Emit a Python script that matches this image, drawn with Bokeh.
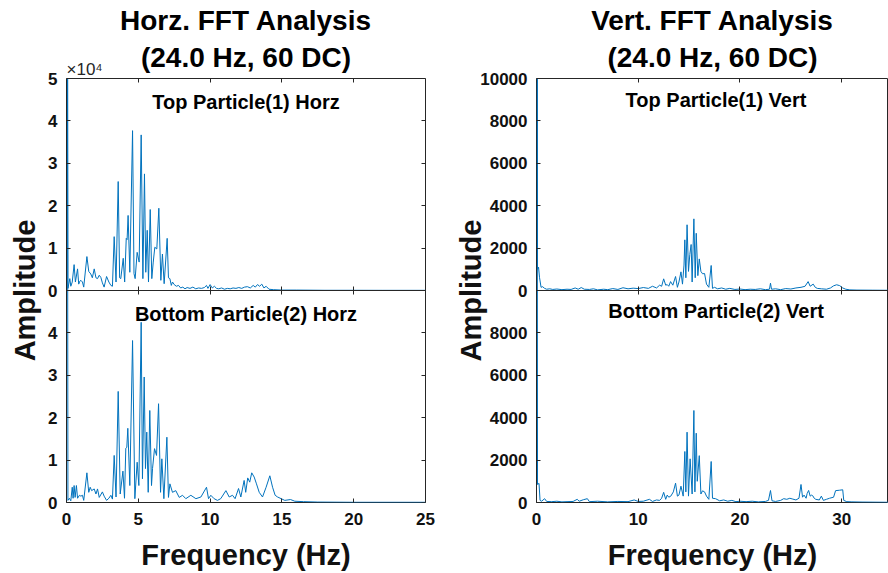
from bokeh.plotting import figure
from bokeh.models import Range1d, LinearAxis, FixedTicker, Label, Title, CustomJSTickFormatter
from bokeh.layouts import row
from bokeh.embed import file_html
from bokeh.resources import INLINE

# ---------------- data (frequency Hz, amplitude) ----------------
horz_top = [(0.0, 300000), (0.1, 500), (0.23, 2800), (0.3, 1000), (0.4, 2000), (0.53, 6100), (0.62, 2000),
            (0.77, 5100), (0.85, 1500), (0.93, 2200), (1.0, 2400), (1.11, 2000), (1.2, 800), (1.42, 8000),
            (1.55, 4500), (1.69, 3900), (1.8, 3000), (1.93, 5100), (2.05, 3000), (2.16, 2800), (2.28, 3600),
            (2.39, 3100), (2.5, 1800), (2.62, 800), (2.79, 3300), (2.95, 2000), (3.09, 1200), (3.2, 1000),
            (3.32, 12700), (3.45, 2000), (3.6, 25700), (3.7, 3000), (3.78, 2800), (3.95, 7600), (4.05, 2000),
            (4.16, 12300), (4.22, 12000), (4.29, 17700), (4.41, 4300), (4.6, 37700), (4.7, 4000), (4.78, 2800),
            (4.92, 9000), (5.06, 6700), (5.2, 36700), (5.32, 2800), (5.43, 27500), (5.52, 4300), (5.62, 14200),
            (5.71, 2000), (5.83, 19100), (5.94, 2800), (6.04, 6700), (6.15, 10200), (6.29, 9800), (6.43, 19400),
            (6.57, 2400), (6.68, 8600), (6.8, 1600), (7.01, 12300), (7.1, 3000), (7.2, 2800), (7.3, 1200),
            (7.38, 2000), (7.5, 1400), (7.65, 1000), (7.8, 1200), (7.95, 600), (8.1, 800), (8.25, 400),
            (8.4, 700), (8.6, 500), (8.8, 800), (9.0, 400), (9.2, 600), (9.4, 500), (9.6, 700), (9.75, 1200),
            (9.85, 500), (10.0, 1400), (10.15, 600), (10.3, 1000), (10.45, 500), (10.6, 400), (10.8, 600),
            (11.0, 300), (11.2, 500), (11.4, 400), (11.6, 600), (11.8, 500), (12.0, 700), (12.2, 500),
            (12.4, 800), (12.6, 900), (12.8, 600), (13.0, 1200), (13.15, 800), (13.3, 1400), (13.45, 1000),
            (13.6, 1500), (13.75, 600), (13.9, 1000), (14.1, 300), (14.4, 200), (15.0, 100), (16.0, 100),
            (18.0, 50), (20.0, 50), (22.0, 40), (25.0, 40)]

horz_bottom = [(0.0, 300000), (0.1, 500), (0.2, 1000), (0.3, 400), (0.4, 3600), (0.46, 1000), (0.53, 4000),
               (0.6, 1200), (0.69, 4000), (0.77, 1000), (0.9, 1700), (1.0, 1500), (1.11, 1700), (1.2, 500),
               (1.42, 7000), (1.55, 2400), (1.65, 3600), (1.75, 2800), (1.93, 3200), (2.05, 2000), (2.16, 3200),
               (2.28, 1200), (2.5, 2500), (2.62, 1500), (2.79, 500), (2.95, 1000), (3.09, 1700), (3.2, 800),
               (3.32, 11100), (3.45, 1300), (3.6, 26200), (3.74, 2000), (3.93, 7400), (4.04, 1000), (4.13, 12800),
               (4.2, 13000), (4.27, 17500), (4.41, 4000), (4.6, 38200), (4.76, 900), (4.92, 9500), (5.04, 4000),
               (5.2, 42500), (5.29, 5600), (5.41, 29600), (5.5, 8000), (5.59, 16600), (5.69, 2400), (5.8, 21700),
               (5.92, 4000), (5.99, 8000), (6.13, 12700), (6.27, 11100), (6.41, 23300), (6.55, 2400), (6.64, 10300),
               (6.78, 900), (6.99, 15400), (7.1, 1200), (7.2, 4400), (7.38, 2400), (7.61, 2800), (7.85, 1200),
               (8.08, 1700), (8.31, 900), (8.66, 1700), (9.01, 900), (9.36, 1300), (9.75, 3600), (9.89, 900),
               (10.05, 1700), (10.28, 900), (10.51, 500), (10.74, 900), (11.1, 2800), (11.33, 1300), (11.56, 1700),
               (11.74, 900), (11.98, 3300), (12.14, 1300), (12.37, 5200), (12.48, 2400), (12.62, 5800), (12.76, 4800),
               (12.9, 7000), (13.07, 6000), (13.23, 4400), (13.42, 2400), (13.65, 1300), (13.9, 3600), (14.16, 6300),
               (14.35, 3600), (14.53, 1700), (14.7, 1300), (14.95, 900), (15.2, 500), (15.6, 700), (15.9, 300),
               (16.5, 200), (17.5, 100), (20.0, 50), (25.0, 50)]

vert_top = [(0.0, 60000), (0.1, 1000), (0.2, 1100), (0.3, 600), (0.45, 150), (0.6, 180), (0.8, 100), (1.0, 60),
            (1.3, 80), (1.6, 50), (2.0, 70), (2.5, 40), (3.0, 60), (3.4, 50), (3.8, 120), (4.1, 60), (4.4, 140),
            (4.7, 60), (5.2, 50), (5.6, 80), (6.0, 30), (6.6, 60), (7.0, 40), (7.5, 90), (8.0, 50), (8.5, 130),
            (9.0, 80), (9.5, 110), (10.0, 90), (10.5, 140), (11.0, 100), (11.4, 200), (11.8, 120), (12.1, 250),
            (12.3, 200), (12.5, 550), (12.7, 250), (12.85, 280), (13.0, 200), (13.18, 420), (13.4, 250),
            (13.67, 660), (13.85, 150), (14.0, 400), (14.2, 880), (14.35, 300), (14.5, 1200), (14.58, 2390),
            (14.68, 600), (14.8, 3100), (14.94, 900), (15.07, 1700), (15.2, 2170), (15.3, 400), (15.47, 3380),
            (15.6, 600), (15.7, 2700), (15.86, 700), (16.0, 1490), (16.16, 900), (16.32, 790), (16.52, 800),
            (16.71, 300), (16.94, 150), (17.17, 1180), (17.3, 100), (17.5, 150), (17.8, 80), (18.2, 120),
            (18.6, 60), (19.0, 100), (19.5, 50), (20.0, 70), (20.5, 40), (21.0, 60), (21.5, 50), (22.0, 80),
            (22.5, 40), (22.9, 60), (23.0, 346), (23.1, 60), (23.5, 80), (24.0, 40), (24.5, 90), (25.0, 70),
            (25.5, 120), (26.0, 150), (26.4, 200), (26.7, 420), (26.9, 200), (27.2, 300), (27.4, 150),
            (27.6, 100), (28.0, 80), (28.5, 60), (28.9, 120), (29.2, 220), (29.5, 270), (29.8, 230),
            (30.1, 120), (30.4, 60), (30.8, 30), (31.5, 20), (33.0, 15), (34.6, 10)]

vert_bottom = [(0.0, 60000), (0.1, 850), (0.25, 900), (0.35, 100), (0.5, 60), (0.8, 180), (1.0, 50), (1.5, 40),
               (2.0, 60), (2.5, 30), (3.0, 40), (3.6, 50), (4.0, 150), (4.2, 60), (4.6, 130), (5.0, 180),
               (5.2, 40), (6.0, 60), (7.0, 30), (8.0, 50), (9.0, 40), (9.6, 120), (10.0, 50), (10.5, 60),
               (11.1, 150), (11.4, 50), (11.8, 120), (12.1, 100), (12.3, 200), (12.5, 480), (12.7, 150),
               (12.85, 350), (13.0, 250), (13.2, 300), (13.45, 500), (13.67, 912), (13.85, 300), (14.0, 350),
               (14.2, 770), (14.42, 300), (14.58, 2406), (14.68, 500), (14.8, 3318), (14.94, 300), (15.1, 2060),
               (15.3, 400), (15.47, 4340), (15.57, 500), (15.7, 3270), (15.8, 1000), (16.0, 2210), (16.16, 400),
               (16.32, 550), (16.52, 500), (16.71, 300), (16.94, 150), (17.17, 1934), (17.3, 200), (17.6, 180),
               (18.0, 80), (18.4, 120), (18.8, 60), (19.2, 100), (19.6, 40), (20.0, 60), (20.6, 40), (21.2, 60),
               (21.8, 30), (22.5, 50), (22.8, 100), (23.0, 566), (23.15, 80), (23.5, 50), (24.0, 100), (24.3, 180),
               (24.6, 150), (24.9, 200), (25.2, 160), (25.5, 120), (25.8, 200), (26.0, 850), (26.15, 250),
               (26.3, 350), (26.5, 200), (26.6, 420), (26.75, 570), (26.9, 300), (27.05, 350), (27.15, 320),
               (27.3, 200), (27.45, 150), (27.8, 120), (28.0, 300), (28.2, 100), (28.5, 150), (28.8, 200),
               (29.2, 250), (29.4, 560), (29.8, 580), (30.1, 600), (30.2, 100), (30.5, 40), (31.0, 30),
               (32.0, 20), (34.6, 10)]

horz_xticks = [0, 5, 10, 15, 20, 25]
vert_xticks = [0, 10, 20, 30]
horz_yticks = [0, 10000, 20000, 30000, 40000, 50000]
horz_ytick_labels = ["0", "1", "2", "3", "4", "5"]
vert_yticks = [0, 2000, 4000, 6000, 8000, 10000]
vert_ytick_labels = ["0", "2000", "4000", "6000", "8000", "10000"]

horz_titles = ["Horz. FFT Analysis", "(24.0 Hz, 60 DC)"]
vert_titles = ["Vert. FFT Analysis", "(24.0 Hz, 60 DC)"]
horz_subtitles = ["Top Particle(1) Horz", "Bottom Particle(2) Horz"]
vert_subtitles = ["Top Particle(1) Vert", "Bottom Particle(2) Vert"]
horz_exponent = "\u00d710\u2074"
x_label = "Frequency (Hz)"
y_label = "Amplitude"

# ---------------- styling ----------------
FONT = "Liberation Sans"
INK = "#111111"
AXC = "#262626"
BLUE = "#0072BD"
PAGE_H = 573
F_TOP, F_BOT = 78, 502
FH = F_BOT - F_TOP
NOLABEL = CustomJSTickFormatter(code="return ''")


def box_axis(ticks, loc, tin, tout, line=False):
    return LinearAxis(ticker=FixedTicker(ticks=ticks), formatter=NOLABEL, fixed_location=loc,
                      major_tick_in=tin, major_tick_out=tout, major_tick_line_color=AXC,
                      minor_tick_line_color=None, axis_line_color=AXC if line else None,
                      major_label_text_font_size="1px", major_label_standoff=0)


def column_plot(top, bottom, xmax, xticks, yticks, ylabels, frame_w, left_b, right_b,
                titles, subs, sub_px, amp_standoff, right_box, exponent, standoffs):
    ymax = yticks[-1]
    p = figure(frame_width=frame_w, frame_height=FH, min_border_left=left_b, min_border_right=right_b,
               min_border_top=F_TOP, min_border_bottom=PAGE_H - F_BOT,
               x_range=Range1d(0, xmax), y_range=Range1d(0, 2 * ymax),
               output_backend="svg", toolbar_location=None, tools="")
    p.extra_y_ranges = {"upper": Range1d(-ymax, ymax)}
    p.xgrid.visible = False
    p.ygrid.visible = False
    p.outline_line_color = AXC
    p.outline_line_width = 1
    p.background_fill_color = "white"
    p.border_fill_color = "white"

    bx, by = zip(*bottom)
    tx, ty = zip(*top)
    p.line(list(bx), list(by), line_color=BLUE, line_width=1)
    p.line(list(tx), list(ty), line_color=BLUE, line_width=1, y_range_name="upper")

    def dy(py):
        return (F_BOT - py) / FH * 2 * ymax

    # left axis: bottom panel ticks + top panel ticks
    ticks = [t for t in yticks[:-1]] + [ymax + t for t in yticks]
    labels = list(ylabels[:-1]) + list(ylabels)
    ya = p.yaxis[0]
    ya.ticker = FixedTicker(ticks=ticks)
    ya.major_label_overrides = {t: l for t, l in zip(ticks, labels)}
    ya.major_tick_in = 4
    ya.major_tick_out = 0
    ya.minor_tick_line_color = None
    ya.axis_line_color = None
    ya.major_tick_line_color = AXC
    ya.major_label_standoff = 9
    ya.major_label_text_font = FONT
    ya.major_label_text_font_style = "bold"
    ya.major_label_text_font_size = "17px"
    ya.major_label_text_color = INK
    ya.axis_label = y_label
    ya.axis_label_text_font = FONT
    ya.axis_label_text_font_style = "bold"
    ya.axis_label_text_font_size = "29px"
    ya.axis_label_text_color = INK
    ya.axis_label_standoff = amp_standoff

    xa = p.xaxis[0]
    xa.ticker = FixedTicker(ticks=xticks)
    xa.major_tick_in = 4
    xa.major_tick_out = 0
    xa.minor_tick_line_color = None
    xa.axis_line_color = None
    xa.major_tick_line_color = AXC
    xa.major_label_standoff = 10
    xa.major_label_text_font = FONT
    xa.major_label_text_font_style = "bold"
    xa.major_label_text_font_size = "17px"
    xa.major_label_text_color = INK
    xa.axis_label = x_label
    xa.axis_label_text_font = FONT
    xa.axis_label_text_font_style = "bold"
    xa.axis_label_text_font_size = "29px"
    xa.axis_label_text_color = INK
    xa.axis_label_standoff = 11

    # box ticks: top edge, panel boundary, right edge
    p.add_layout(box_axis(xticks, 2 * ymax, 4, 0), "above")
    p.add_layout(box_axis(xticks, ymax, 4, 4, line=True), "below")
    if right_box:
        p.add_layout(box_axis(ticks, xmax, 4, 0), "right")

    # titles (stacked above the frame; first added is nearest the frame)
    p.title.visible = False
    sub_so, main_so = standoffs
    p.add_layout(Title(text=titles[1], align="center", text_font=FONT, text_font_style="bold",
                       text_font_size="28px", text_color="black", standoff=sub_so), "above")
    p.add_layout(Title(text=titles[0], align="center", text_font=FONT, text_font_style="bold",
                       text_font_size="28px", text_color="black", standoff=main_so), "above")
    if exponent:
        # outermost title, pulled back down next to the top-left corner of the frame
        p.add_layout(Title(text=exponent, align="left", text_font=FONT, text_font_style="normal",
                           text_font_size="17px", text_color=AXC, standoff=-148), "above")

    # panel captions inside the frame
    for txt, py in zip(subs, sub_px[:2]):
        p.add_layout(Label(x=sub_px[2] * xmax, y=dy(py), text=txt, text_font=FONT, text_font_style="bold",
                           text_font_size="20px", text_color="black", text_align="center",
                           text_baseline="middle"))
    return p


left = column_plot(horz_top, horz_bottom, 25, horz_xticks, horz_yticks, horz_ytick_labels,
                   frame_w=359, left_b=66, right_b=20,
                   titles=horz_titles, subs=horz_subtitles, sub_px=(101, 313, 0.5),
                   amp_standoff=4, right_box=True, exponent=horz_exponent, standoffs=(11, -3))

right = column_plot(vert_top, vert_bottom, 34.6, vert_xticks, vert_yticks, vert_ytick_labels,
                    frame_w=352, left_b=91, right_b=0,
                    titles=vert_titles, subs=vert_subtitles, sub_px=(99, 310, 0.51),
                    amp_standoff=-10, right_box=False, exponent=None, standoffs=(11, -3))

layout = row(left, right, spacing=0)
open("out.html", "w").write(file_html(layout, INLINE))
